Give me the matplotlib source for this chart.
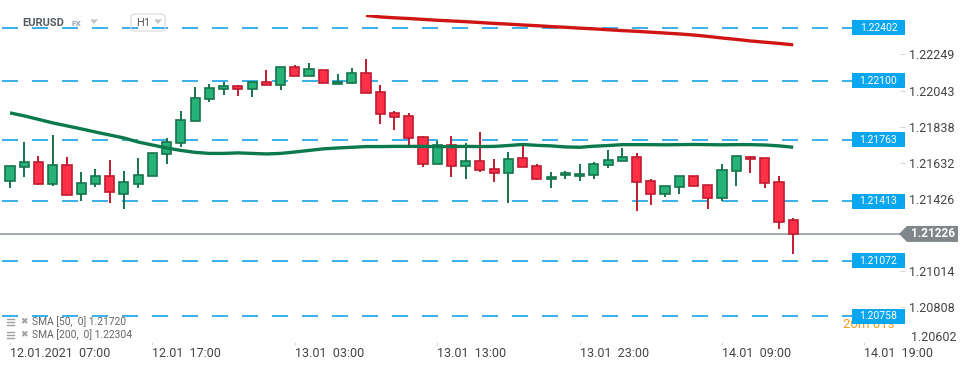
import matplotlib
matplotlib.use('Agg')
import matplotlib.pyplot as plt
import numpy as np
from matplotlib.patches import Rectangle, Polygon, FancyBboxPatch
from matplotlib.lines import Line2D
from matplotlib.transforms import blended_transform_factory

plt.rcParams['font.family'] = ['Roboto', 'DejaVu Sans']
plt.rcParams['lines.scale_dashes'] = False

# ---------------- data ----------------
opens = [1.21526, 1.21606, 1.21635, 1.21513, 1.21618, 1.21452, 1.21513, 1.21555, 1.21456, 1.21509,
         1.21555, 1.21680, 1.21743, 1.21868, 1.21994, 1.22051, 1.22068, 1.22051, 1.22091, 1.22074,
         1.22176, 1.22125, 1.22159, 1.22079, 1.22085, 1.22142, 1.22034, 1.21914, 1.21897, 1.21777,
         1.21623, 1.21732, 1.21612, 1.21640, 1.21595, 1.21572, 1.21658, 1.21612, 1.21538, 1.21561,
         1.21555, 1.21561, 1.21618, 1.21640, 1.21663, 1.21526, 1.21452, 1.21492, 1.21555, 1.21504,
         1.21430, 1.21583, 1.21663, 1.21658, 1.21521, 1.21304]
highs = [1.21614, 1.21750, 1.21671, 1.21789, 1.21665, 1.21579, 1.21597, 1.21648, 1.21585, 1.21659,
         1.21686, 1.21772, 1.21927, 1.22064, 1.22081, 1.22092, 1.22075, 1.22091, 1.22161, 1.22176,
         1.22189, 1.22201, 1.22159, 1.22138, 1.22172, 1.22224, 1.22074, 1.21927, 1.21914, 1.21783,
         1.21754, 1.21783, 1.21743, 1.21806, 1.21652, 1.21692, 1.21743, 1.21623, 1.21578, 1.21583,
         1.21623, 1.21635, 1.21703, 1.21715, 1.21686, 1.21538, 1.21498, 1.21555, 1.21555, 1.21504,
         1.21623, 1.21669, 1.21669, 1.21658, 1.21555, 1.21316]
lows = [1.21490, 1.21553, 1.21507, 1.21501, 1.21447, 1.21412, 1.21496, 1.21404, 1.21370, 1.21490,
        1.21555, 1.21627, 1.21724, 1.21868, 1.21980, 1.22020, 1.22014, 1.22009, 1.22074, 1.22049,
        1.22125, 1.22125, 1.22085, 1.22079, 1.22079, 1.22028, 1.21855, 1.21821, 1.21728, 1.21610,
        1.21623, 1.21549, 1.21538, 1.21578, 1.21521, 1.21401, 1.21606, 1.21532, 1.21487, 1.21538,
        1.21526, 1.21538, 1.21600, 1.21640, 1.21359, 1.21390, 1.21435, 1.21452, 1.21498, 1.21367,
        1.21412, 1.21498, 1.21572, 1.21487, 1.21253, 1.21110]
closes = [1.21612, 1.21635, 1.21513, 1.21618, 1.21447, 1.21515, 1.21555, 1.21464, 1.21521, 1.21561,
          1.21686, 1.21749, 1.21874, 1.21999, 1.22057, 1.22068, 1.22051, 1.22091, 1.22074, 1.22176,
          1.22125, 1.22165, 1.22085, 1.22091, 1.22142, 1.22028, 1.21908, 1.21891, 1.21772, 1.21623,
          1.21732, 1.21612, 1.21640, 1.21589, 1.21572, 1.21652, 1.21606, 1.21538, 1.21549, 1.21572,
          1.21566, 1.21623, 1.21646, 1.21663, 1.21521, 1.21452, 1.21498, 1.21555, 1.21498, 1.21430,
          1.21589, 1.21669, 1.21652, 1.21515, 1.21293, 1.21226]

sma50 = [1.21916, 1.21899, 1.21879, 1.21859, 1.21842, 1.21825, 1.21807, 1.21790, 1.21773, 1.21750,
         1.21733, 1.21716, 1.21702, 1.21691, 1.21685, 1.21685, 1.21688, 1.21685, 1.21682, 1.21685,
         1.21693, 1.21702, 1.21711, 1.21716, 1.21720, 1.21724, 1.21724, 1.21725, 1.21725, 1.21725,
         1.21724, 1.21724, 1.21725, 1.21724, 1.21725, 1.21730, 1.21736, 1.21731, 1.21728, 1.21722,
         1.21720, 1.21726, 1.21730, 1.21735, 1.21735, 1.21735, 1.21734, 1.21735, 1.21736, 1.21735,
         1.21734, 1.21735, 1.21735, 1.21733, 1.21728, 1.21720]
sma200 = [np.nan] * 25 + [
         1.22472, 1.22463, 1.22458, 1.22454, 1.22449, 1.22444, 1.22440, 1.22436, 1.22431,
         1.22426, 1.22422, 1.22417, 1.22413, 1.22408, 1.22404, 1.22399, 1.22395, 1.22390, 1.22385,
         1.22381, 1.22376, 1.22371, 1.22366, 1.22360, 1.22352, 1.22343, 1.22335, 1.22326, 1.22319,
         1.22312, 1.22304]

levels = [1.22402, 1.22100, 1.21763, 1.21413, 1.21072, 1.20758]
last_price = 1.21226
y_ticks = [1.22249, 1.22043, 1.21838, 1.21632, 1.21426, 1.21014, 1.20808]
y_bottom_label = 1.20602
x_tick_idx = [0, 10, 20, 30, 40, 50, 60]
x_tick_labels = ['12.01.2021  07:00', '12.01  17:00', '13.01  03:00', '13.01  13:00',
                 '13.01  23:00', '14.01  09:00', '14.01  19:00']
legend_entries = ['SMA [50,  0] 1.21720', 'SMA [200,  0] 1.22304']
symbol = 'EURUSD'
market = 'FX'
timeframe = 'H1'
countdown = '20m 01s'

# ---------------- figure ----------------
W, H = 970, 368
fig = plt.figure(figsize=(W / 100, H / 100), dpi=100)
AX_L, AX_R, AX_T, AX_B = 0, 900, 15, 342
ax = fig.add_axes([AX_L / W, 1 - AX_B / H, (AX_R - AX_L) / W, (AX_B - AX_T) / H])
ax.set_xlim(-0.7022, 62.50)
ax.set_ylim(1.20610, 1.22474)
for s in ax.spines.values():
    s.set_visible(False)

PX = 0.72  # points per pixel
ppx = (1.22474 - 1.20610) / (AX_B - AX_T)  # price per pixel


def fp(x, y):
    return (x / W, 1 - y / H)


bt = blended_transform_factory(ax.transAxes, ax.transData)

# dashed levels
for lv in levels:
    ax.axhline(lv, xmin=2 / 900, xmax=852 / 900, color='#2aa9e9', lw=1.3,
               linestyle=(0, (16 * PX, 14 * PX)), zorder=1)

# current price line
ax.axhline(last_price, xmin=0, xmax=1, color='#8a9296', lw=1.1, zorder=1.5)

# candles
O = np.array(opens); Hh = np.array(highs); L = np.array(lows); C = np.array(closes)
idx = np.arange(len(O))
up = C >= O
fill = np.where(up, '#27b277', '#ff3148')
edge = np.where(up, '#17744c', '#c01b30')
ax.vlines(idx, L, Hh, colors=edge, lw=1.4, zorder=2)
body_h = np.maximum(np.abs(C - O), 1.2 * ppx)
ax.bar(idx, body_h, bottom=np.minimum(O, C), width=0.64, color=fill,
       edgecolor=edge, linewidth=1.2, zorder=3)

# SMAs
ax.plot(idx, sma50, color='#0a7a4c', lw=2.4, zorder=4, solid_capstyle='butt')
ax.plot(idx, sma200, color='#d01515', lw=2.4, zorder=4, solid_capstyle='butt')

# level label boxes
bh = 15 * ppx
for lv in levels:
    ax.add_patch(Rectangle((852 / 900, lv - bh / 2), 53 / 900, bh, transform=bt,
                           facecolor='#0aa6ef', edgecolor='none', clip_on=False, zorder=10))
    ax.text(878.5 / 900, lv, f'{lv:.5f}', transform=bt, ha='center', va='center',
            color='white', fontsize=7.5, zorder=11, clip_on=False)

# current price label
gh = 16 * ppx
poly = Polygon([(899 / 900, last_price), (907 / 900, last_price + gh / 2),
                (958 / 900, last_price + gh / 2), (958 / 900, last_price - gh / 2),
                (907 / 900, last_price - gh / 2)], closed=True, transform=bt,
               facecolor='#7f878b', edgecolor='none', clip_on=False, zorder=10)
ax.add_patch(poly)
ax.text(932.5 / 900, last_price, f'{last_price:.5f}', transform=bt, ha='center', va='center',
        color='white', fontsize=8.5, fontweight='bold', zorder=11, clip_on=False)

# countdown (partly hidden under the blue box)
ax.text(*fp(843, 324), countdown, transform=fig.transFigure, ha='left', va='center',
        color='#f59a1b', fontsize=9.5, zorder=9, clip_on=False)

# axes ticks
ax.yaxis.tick_right()
ax.set_yticks(y_ticks)
ax.set_yticklabels([f'{v:.5f}' for v in y_ticks])
ax.tick_params(axis='y', length=5 * PX, width=0.8, color='#d6d6d6', pad=4 * PX,
               labelsize=9, labelcolor='#444444')
ax.annotate(f'{y_bottom_label:.5f}', xy=(1, y_bottom_label), xycoords=bt,
            xytext=(11 * PX, 6 * PX), textcoords='offset points', ha='left', va='center',
            fontsize=9, color='#444444', annotation_clip=False)
ax.set_xticks(x_tick_idx)
ax.set_xticklabels(x_tick_labels, ha='left')
ax.tick_params(axis='x', length=3 * PX, width=0.8, color='#d6d6d6', pad=1.5,
               labelsize=9, labelcolor='#444444')

# header
ax.text(*fp(22, 22.5), symbol, transform=fig.transFigure, ha='left', va='center',
        fontsize=8, fontweight='bold', color='#545a5f', zorder=12, clip_on=False)
ax.text(*fp(72, 24), market, transform=fig.transFigure, ha='left', va='center',
        fontsize=6, fontweight='bold', color='#9aa7b2', zorder=12, clip_on=False)
for x0 in (90, 154):
    ax.add_patch(Polygon([fp(x0, 19.5), fp(x0 + 8, 19.5), fp(x0 + 4, 24)], closed=True,
                         transform=fig.transFigure, facecolor='#c4c4c4', edgecolor='none',
                         clip_on=False, zorder=12))
x0, y0 = fp(131, 31)
x1, y1 = fp(165, 14)
ax.add_patch(FancyBboxPatch((x0, y0), x1 - x0, y1 - y0, boxstyle='round,pad=0,rounding_size=0.006',
                            transform=fig.transFigure, facecolor='none', edgecolor='#dcdcdc',
                            lw=0.9, clip_on=False, zorder=12))
ax.text(*fp(136, 22.5), timeframe, transform=fig.transFigure, ha='left', va='center',
        fontsize=8, color='#555555', zorder=12, clip_on=False)

# legend
for k, txt in enumerate(legend_entries):
    yc = 321.5 + k * 13.5
    for dy in (-3, 0, 3):
        fig.add_artist(Line2D([7 / W, 14 / W], [1 - (yc + dy) / H] * 2, color='#a0a0a0', lw=1.0))
    fig.text(*fp(20, yc), '\u2716', ha='left', va='center', fontsize=6.5, color='#a0a0a0',
             family=['DejaVu Sans'])
    fig.text(*fp(32, yc), txt, ha='left', va='center', fontsize=7.4, color='#666666')

fig.savefig('out.png', dpi=100, facecolor='white')
